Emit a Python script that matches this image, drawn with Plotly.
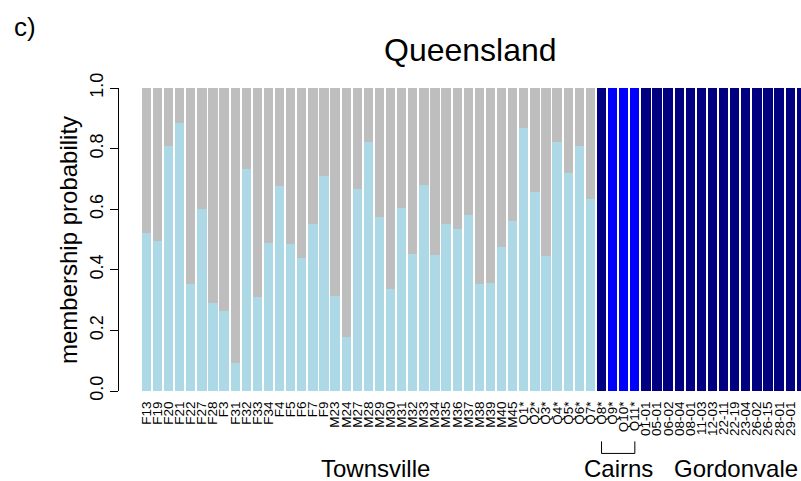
import plotly.graph_objects as go

# Sample names in plotting order (Townsville, Cairns, Gordonvale)
townsville = ["F13", "F19", "F20", "F21", "F22", "F27", "F28", "F3", "F31", "F32",
              "F33", "F34", "F4", "F5", "F6", "F7", "F9",
              "M23", "M24", "M27", "M28", "M29", "M30", "M31", "M32", "M33",
              "M34", "M35", "M36", "M37", "M38", "M39", "M40", "M45",
              "Q1*", "Q2*", "Q3*", "Q4*", "Q5*", "Q6*", "Q7*"]
cairns = ["Q8*", "Q9*", "Q10*", "Q11*"]
gordonvale = ["01-01", "05-01", "06-02", "08-04", "08-01", "11-03", "12-03", "22-11",
              "22-19", "23-04", "26-02", "26-15", "28-01", "29-01", "30-02", "31-01", "33-05"]

# Membership probabilities per cluster
k_lightblue = [0.520, 0.496, 0.809, 0.884, 0.354, 0.600, 0.289, 0.264, 0.093, 0.733,
               0.311, 0.489, 0.676, 0.485, 0.440, 0.552, 0.708,
               0.313, 0.177, 0.668, 0.822, 0.575, 0.337, 0.605, 0.453, 0.679,
               0.449, 0.551, 0.536, 0.581, 0.352, 0.356, 0.476, 0.562,
               0.869, 0.658, 0.445, 0.821, 0.721, 0.808, 0.635,
               0, 0, 0, 0] + [0] * 17
k_grey = [0.480, 0.504, 0.191, 0.116, 0.646, 0.400, 0.711, 0.736, 0.907, 0.267,
          0.689, 0.511, 0.324, 0.515, 0.560, 0.448, 0.292,
          0.687, 0.823, 0.332, 0.178, 0.425, 0.663, 0.395, 0.547, 0.321,
          0.551, 0.449, 0.464, 0.419, 0.648, 0.644, 0.524, 0.438,
          0.131, 0.342, 0.555, 0.179, 0.279, 0.192, 0.365,
          0, 0, 0, 0] + [0] * 17
k_navy = [0] * 41 + [1, 0, 0, 0] + [1] * 17
k_blue = [0] * 41 + [0, 1, 1, 1] + [0] * 17

samples = townsville + cairns + gordonvale
idx = list(range(len(samples)))

font = "Liberation Sans, Arial, sans-serif"

fig = go.Figure()
for vals, col in [(k_lightblue, "#ADD8E6"), (k_grey, "#BEBEBE"),
                  (k_navy, "#000080"), (k_blue, "#0000FF")]:
    fig.add_trace(go.Bar(x=idx, y=vals, marker=dict(color=col, line=dict(width=0)),
                         showlegend=False, hoverinfo="skip"))

fig.update_layout(
    width=801, height=481,
    margin=dict(l=119, r=0, t=88, b=90),
    barmode="stack", bargap=0.16,
    plot_bgcolor="white", paper_bgcolor="white",
    font=dict(family=font, color="black"),
    showlegend=False,
)

fig.update_xaxes(
    range=[-2.47, 58.97],
    tickmode="array", tickvals=idx, ticktext=samples,
    tickangle=-90, tickfont=dict(size=13.5),
    ticks="outside", ticklen=4, tickcolor="rgba(0,0,0,0)",
    showline=False, showgrid=False, zeroline=False,
)
fig.update_yaxes(
    range=[0, 1],
    tickmode="array", tickvals=[0, 0.2, 0.4, 0.6, 0.8, 1.0],
    ticktext=["0.0", "0.2", "0.4", "0.6", "0.8", "1.0"],
    tickangle=-90, tickfont=dict(size=18),
    ticks="outside", ticklen=8, tickcolor="black", tickwidth=1,
    showline=True, linecolor="black", linewidth=1,
    showgrid=False, zeroline=False,
)


def px_x(px):
    return (px - 119) / 682


def px_y(py):
    return (390.7 - py) / 302.4


common = dict(showarrow=False, xanchor="center", yanchor="middle")
label_y = px_y(468)
ann = [
    dict(text="Queensland", x=px_x(470), y=px_y(50), xref="paper", yref="paper",
         font=dict(size=32), **common),
    dict(text="membership probability", textangle=-90, x=px_x(68), y=px_y(240),
         xref="paper", yref="paper", font=dict(size=24), **common),
    dict(text="c)", x=px_x(25), y=px_y(27), xref="paper", yref="paper",
         font=dict(size=26), **common),
    dict(text="Townsville", x=20.6, y=label_y, xref="x", yref="paper",
         font=dict(size=24), **common),
    dict(text="Cairns", x=42.5, y=label_y, xref="x", yref="paper",
         font=dict(size=24), **common),
    dict(text="Gordonvale", x=1.0, y=label_y, xref="paper", yref="paper",
         showarrow=False, xanchor="right", yanchor="middle", xshift=-1,
         font=dict(size=24)),
]
fig.update_layout(annotations=ann)

# Bracket under the Cairns samples
b_top = px_y(441)
b_bot = px_y(453)
fig.add_shape(type="path", xref="x", yref="paper",
              path=f"M 41,{b_top} L 41,{b_bot} L 44,{b_bot} L 44,{b_top}",
              line=dict(color="black", width=1))

fig.write_html("out.html")
